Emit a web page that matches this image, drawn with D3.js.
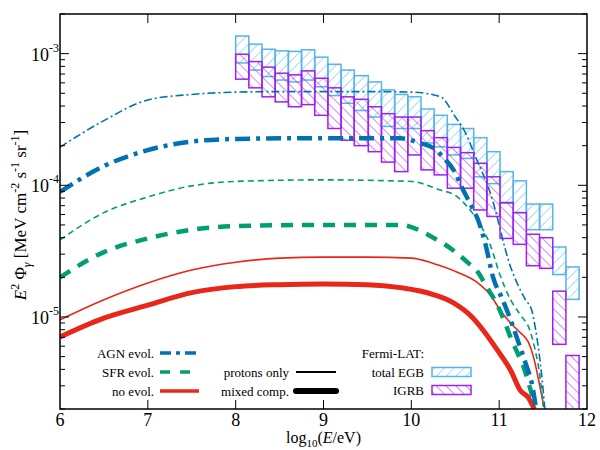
<!DOCTYPE html>
<html>
<head>
<meta charset="utf-8">
<script src="https://cdn.jsdelivr.net/npm/d3@7"></script>
<style>
  body { margin: 0; background: #fff; }
</style>
</head>
<body>
<div id="chart-area"></div>
<script>
// Fermi-LAT bins (log10 E/eV edges) and flux bands
const binEdges = [8.00, 8.15, 8.30, 8.45, 8.60, 8.75, 8.90, 9.05, 9.20, 9.35, 9.51, 9.66, 9.81,
  9.96, 10.11, 10.26, 10.41, 10.56, 10.71, 10.86, 11.01, 11.16, 11.31, 11.46, 11.61, 11.76, 11.91];
const egbHigh = [1.36e-3, 1.18e-3, 1.08e-3, 1.05e-3, 1.04e-3, 1.07e-3, 9.4e-4, 8.3e-4, 7.5e-4, 6.8e-4,
  6.1e-4, 5.3e-4, 4.9e-4, 4.7e-4, 3.8e-4, 3.4e-4, 2.9e-4, 2.7e-4, 2.3e-4, 1.8e-4, 1.27e-4, 1.08e-4,
  7.2e-5, 7.2e-5, 3.4e-5, 2.4e-5];
const egbLow = [8.5e-4, 7.5e-4, 6.7e-4, 6.3e-4, 6.1e-4, 6.3e-4, 5.6e-4, 4.8e-4, 4.2e-4, 3.7e-4,
  3.3e-4, 2.8e-4, 2.7e-4, 2.7e-4, 2.1e-4, 1.96e-4, 1.7e-4, 1.6e-4, 1.16e-4, 1.03e-4, 7.3e-5, 6.2e-5,
  4.6e-5, 4.6e-5, 2.1e-5, 1.36e-5];
const igrbHigh = [9.9e-4, 8.7e-4, 7.9e-4, 7.1e-4, 6.9e-4, 7.4e-4, 6.5e-4, 5.5e-4, 4.7e-4, 4.5e-4,
  3.95e-4, 3.5e-4, 3.3e-4, 3.3e-4, 2.6e-4, 2.3e-4, 1.94e-4, 1.77e-4, 1.47e-4, 1.16e-4, 7.4e-5, 6.2e-5,
  4.25e-5, 4.0e-5, 1.57e-5, 5.1e-6];
const igrbLow = [6.4e-4, 5.5e-4, 4.7e-4, 4.3e-4, 3.95e-4, 4.1e-4, 3.4e-4, 2.7e-4, 2.2e-4, 2.0e-4,
  1.8e-4, 1.5e-4, 1.27e-4, 1.7e-4, 1.31e-4, 1.2e-4, 9.5e-5, 9.5e-5, 6.5e-5, 5.8e-5, 3.95e-5, 3.56e-5,
  2.45e-5, 2.34e-5, 6.2e-6, 1.0e-6];

// model curves: log10(E/eV) and E^2 Phi
const agnProtE = [6, 6.5, 7, 7.5, 8, 8.5, 9, 9.5, 10, 10.33, 10.5, 10.6, 10.73, 10.9, 11.13, 11.3, 11.37, 11.41, 11.45, 11.49, 11.52];
const agnProtF = [1.95e-4, 3.1e-4, 4.45e-4, 4.9e-4, 5.1e-4, 5.15e-4, 5.15e-4, 5.15e-4, 5.1e-4, 4.71e-4, 3.32e-4, 2.63e-4, 1.65e-4, 8.7e-5, 2.4e-5, 1.35e-5, 1.13e-5, 8.4e-6, 5.6e-6, 3.3e-6, 2.0e-6];
const agnMixE = [6, 6.5, 7, 7.5, 8, 9, 9.875, 10.1, 10.25, 10.36, 10.48, 10.59, 10.69, 10.76, 10.84, 10.93, 11.04, 11.13, 11.21, 11.30, 11.38, 11.42];
const agnMixF = [8.9e-5, 1.4e-4, 1.85e-4, 2.15e-4, 2.25e-4, 2.28e-4, 2.28e-4, 2.09e-4, 1.92e-4, 1.64e-4, 1.31e-4, 9.2e-5, 6.84e-5, 5.45e-5, 3.65e-5, 2.01e-5, 1.35e-5, 9.5e-6, 6.7e-6, 4.47e-6, 2.94e-6, 2.0e-6];
const sfrProtE = [6, 6.5, 7, 7.5, 8, 9, 10, 10.33, 10.5, 10.64, 10.75, 10.9, 11.01, 11.13, 11.24, 11.35, 11.41, 11.47, 11.50];
const sfrProtF = [3.85e-5, 6.2e-5, 8.15e-5, 9.9e-5, 1.07e-4, 1.1e-4, 1.07e-4, 9.2e-5, 8.4e-5, 6.84e-5, 5.45e-5, 3.5e-5, 2.08e-5, 1.35e-5, 1.04e-5, 7.9e-6, 5.6e-6, 3.3e-6, 2.1e-6];
const sfrMixE = [6, 6.5, 7, 7.5, 8, 9, 9.875, 10.25, 10.48, 10.64, 10.76, 10.86, 10.97, 11.07, 11.13, 11.21, 11.28, 11.35, 11.40];
const sfrMixF = [2.0e-5, 3.11e-5, 3.95e-5, 4.6e-5, 4.9e-5, 5.0e-5, 5.0e-5, 4.0e-5, 3.2e-5, 2.6e-5, 2.18e-5, 1.68e-5, 1.27e-5, 8.9e-6, 7.0e-6, 5.3e-6, 4.14e-6, 2.9e-6, 2.2e-6];
const noProtE = [6, 6.5, 7, 7.5, 8, 8.5, 9, 9.5, 10, 10.25, 10.53, 10.76, 10.9, 11.01, 11.13, 11.24, 11.33, 11.39, 11.45, 11.51];
const noProtF = [9.5e-6, 1.35e-5, 1.81e-5, 2.27e-5, 2.6e-5, 2.8e-5, 2.85e-5, 2.85e-5, 2.8e-5, 2.55e-5, 2.18e-5, 1.81e-5, 1.47e-5, 1.13e-5, 9.0e-6, 7.6e-6, 6.5e-6, 5.0e-6, 3.3e-6, 2.07e-6];
const noMixE = [6, 6.5, 7, 7.5, 8, 8.5, 9, 9.5, 9.875, 10.25, 10.48, 10.69, 10.82, 10.98, 11.13, 11.24, 11.33, 11.40];
const noMixF = [7.05e-6, 9.8e-6, 1.23e-5, 1.53e-5, 1.7e-5, 1.76e-5, 1.78e-5, 1.76e-5, 1.67e-5, 1.48e-5, 1.28e-5, 1.0e-5, 7.9e-6, 5.6e-6, 3.94e-6, 2.77e-6, 2.45e-6, 2.0e-6];

const xTicks = [6, 7, 8, 9, 10, 11, 12];
const yMajor = [1e-5, 1e-4, 1e-3];

const colAGN = '#0072b2';
const colSFR = '#009e73';
const colNo = '#e8261a';
const colEGB = '#56b4e9';
const colIGRB = '#a020f0';

const serif = "'Liberation Serif', Tinos, 'Times New Roman', Times, 'DejaVu Serif', serif";

const margin = {left: 60, right: 13, top: 14, bottom: 41};
const width = 600 - margin.left - margin.right;
const height = 450 - margin.top - margin.bottom;

const svg = d3.select('#chart-area').append('svg')
  .attr('width', 600)
  .attr('height', 450)
  .attr('font-family', serif)
  .style('font-family', serif);

const defs = svg.append('defs');
defs.append('clipPath').attr('id', 'plot-clip')
  .append('rect').attr('width', width).attr('height', height);

function hatch(id, color, angle) {
  const p = defs.append('pattern')
    .attr('id', id)
    .attr('patternUnits', 'userSpaceOnUse')
    .attr('width', 7).attr('height', 7)
    .attr('patternTransform', `rotate(${angle})`);
  p.append('line')
    .attr('x1', 0).attr('y1', 0).attr('x2', 0).attr('y2', 7)
    .attr('stroke', color).attr('stroke-width', 1);
}
hatch('hatch-egb', colEGB, 45);
hatch('hatch-igrb', colIGRB, -45);

const canvas = svg.append('g')
  .attr('transform', `translate(${margin.left}, ${margin.top})`);

const x = d3.scaleLinear().domain([6, 12]).range([0, width]);
const y = d3.scaleLog().domain([2e-6, 2e-3]).range([height, 0]);

const plot = canvas.append('g').attr('clip-path', 'url(#plot-clip)');

// Fermi boxes
function drawBands(lo, hi, color, fill) {
  plot.append('g').selectAll('rect')
    .data(lo.map((d, i) => ({lo: d, hi: hi[i], e0: binEdges[i], e1: binEdges[i + 1]})))
    .enter().append('rect')
    .attr('x', d => x(d.e0))
    .attr('width', d => x(d.e1) - x(d.e0))
    .attr('y', d => y(d.hi))
    .attr('height', d => y(d.lo) - y(d.hi))
    .attr('fill', fill)
    .attr('stroke', color)
    .attr('stroke-width', 1.5);
}
drawBands(egbLow, egbHigh, colEGB, 'url(#hatch-egb)');
drawBands(igrbLow, igrbHigh, colIGRB, 'url(#hatch-igrb)');

// model curves
const line = d3.line()
  .x(d => x(d[0]))
  .y(d => y(d[1]))
  .curve(d3.curveMonotoneX);

const curves = [
  {e: noMixE, f: noMixF, color: colNo, w: 5, dash: null},
  {e: noProtE, f: noProtF, color: colNo, w: 1.6, dash: null},
  {e: sfrMixE, f: sfrMixF, color: colSFR, w: 4.5, dash: '12,9'},
  {e: sfrProtE, f: sfrProtF, color: colSFR, w: 1.6, dash: '6,4'},
  {e: agnMixE, f: agnMixF, color: colAGN, w: 4.5, dash: '15,6,4,6'},
  {e: agnProtE, f: agnProtF, color: colAGN, w: 1.6, dash: '8,3,2,3'}
];

curves.forEach(c => {
  plot.append('path')
    .datum(c.e.map((e, i) => [e, c.f[i]]))
    .attr('d', line)
    .attr('fill', 'none')
    .attr('stroke', c.color)
    .attr('stroke-width', c.w)
    .attr('stroke-dasharray', c.dash);
});

// frame and ticks (inward, mirrored)
canvas.append('rect')
  .attr('width', width).attr('height', height)
  .attr('fill', 'none').attr('stroke', '#000').attr('stroke-width', 1.5);

const tickG = canvas.append('g').attr('stroke', '#000').attr('stroke-width', 1);
xTicks.slice(1, -1).forEach(t => {
  tickG.append('line').attr('x1', x(t)).attr('x2', x(t)).attr('y1', height).attr('y2', height - 9);
  tickG.append('line').attr('x1', x(t)).attr('x2', x(t)).attr('y1', 0).attr('y2', 9);
});
const yMinor = y.ticks().filter(v => yMajor.indexOf(v) < 0);
yMajor.forEach(t => {
  tickG.append('line').attr('x1', 0).attr('x2', 9).attr('y1', y(t)).attr('y2', y(t));
  tickG.append('line').attr('x1', width).attr('x2', width - 9).attr('y1', y(t)).attr('y2', y(t));
});
yMinor.forEach(t => {
  tickG.append('line').attr('x1', 0).attr('x2', 5).attr('y1', y(t)).attr('y2', y(t));
  tickG.append('line').attr('x1', width).attr('x2', width - 5).attr('y1', y(t)).attr('y2', y(t));
});

// tick labels
canvas.append('g').selectAll('text')
  .data(xTicks).enter().append('text')
  .attr('x', d => x(d))
  .attr('y', height + 17)
  .attr('text-anchor', 'middle')
  .attr('font-size', '18px')
  .text(d => d);

yMajor.forEach(t => {
  const lab = canvas.append('text')
    .attr('x', -1)
    .attr('y', y(t) + 7)
    .attr('text-anchor', 'end')
    .attr('font-size', '18px');
  lab.append('tspan').text('10');
  lab.append('tspan').attr('dy', -9).attr('font-size', '12px').text(Math.round(Math.log10(t)));
});

// axis titles
const xt = canvas.append('text')
  .attr('x', x(9))
  .attr('y', height + 34)
  .attr('text-anchor', 'middle')
  .attr('font-size', '16px');
xt.append('tspan').text('log');
xt.append('tspan').attr('dy', 4).attr('font-size', '11px').text('10');
xt.append('tspan').attr('dy', -4).text('(');
xt.append('tspan').attr('font-style', 'italic').text('E');
xt.append('tspan').text('/eV)');

const yt = canvas.append('text')
  .attr('transform', `translate(${-34}, ${201})rotate(-90)`)
  .attr('text-anchor', 'middle')
  .attr('font-size', '17px');
yt.append('tspan').attr('font-style', 'italic').text('E');
yt.append('tspan').attr('dy', -7).attr('font-size', '12px').text('2');
yt.append('tspan').attr('dy', 7).text(' Φ');
yt.append('tspan').attr('dy', 5).attr('font-size', '12px').attr('font-style', 'italic').text('γ');
yt.append('tspan').attr('dy', -5).text(' [MeV cm');
yt.append('tspan').attr('dy', -7).attr('font-size', '12px').text('-2');
yt.append('tspan').attr('dy', 7).text(' s');
yt.append('tspan').attr('dy', -7).attr('font-size', '12px').text('-1');
yt.append('tspan').attr('dy', 7).text(' sr');
yt.append('tspan').attr('dy', -7).attr('font-size', '12px').text('-1');
yt.append('tspan').attr('dy', 7).text(']');

// legend (page coords)
const legend = svg.append('g').attr('font-size', '13px');
const legRows = [
  {label: 'AGN evol.', color: colAGN, dash: '11,5,4,5', y: 353},
  {label: 'SFR evol.', color: colSFR, dash: '10,10', y: 372},
  {label: 'no evol.', color: colNo, dash: null, y: 391}
];
legRows.forEach(r => {
  legend.append('text').attr('x', 154).attr('y', r.y + 4.5).attr('text-anchor', 'end').text(r.label);
  legend.append('line').attr('x1', 160).attr('x2', 199).attr('y1', r.y).attr('y2', r.y)
    .attr('stroke', r.color).attr('stroke-width', 3.5).attr('stroke-dasharray', r.dash);
});
const compRows = [
  {label: 'protons only', w: 2, y: 372},
  {label: 'mixed comp.', w: 6, y: 391}
];
compRows.forEach(r => {
  legend.append('text').attr('x', 289).attr('y', r.y + 4.5).attr('text-anchor', 'end').text(r.label);
  legend.append('line').attr('x1', 296).attr('x2', 336).attr('y1', r.y).attr('y2', r.y)
    .attr('stroke', '#000').attr('stroke-width', r.w).attr('stroke-linecap', r.w > 3 ? 'round' : 'butt');
});
legend.append('text').attr('x', 424).attr('y', 357.5).attr('text-anchor', 'end').text('Fermi-LAT:');
const fermiRows = [
  {label: 'total EGB', color: colEGB, fill: 'url(#hatch-egb)', y: 372},
  {label: 'IGRB', color: colIGRB, fill: 'url(#hatch-igrb)', y: 390}
];
fermiRows.forEach(r => {
  legend.append('text').attr('x', 424).attr('y', r.y + 4.5).attr('text-anchor', 'end').text(r.label);
  legend.append('rect').attr('x', 432).attr('y', r.y - 4.5).attr('width', 39).attr('height', 9)
    .attr('fill', r.fill).attr('stroke', r.color).attr('stroke-width', 1.5);
});
</script>
</body>
</html>
